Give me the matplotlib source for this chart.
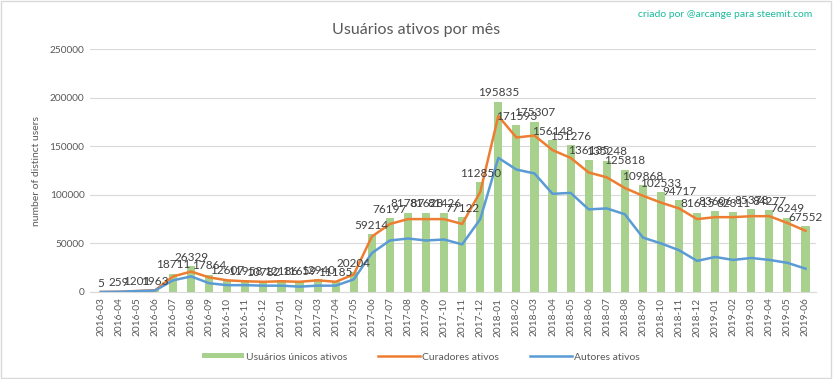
import matplotlib
matplotlib.use("Agg")
import matplotlib.pyplot as plt
import numpy as np

months = ["2016-03","2016-04","2016-05","2016-06","2016-07","2016-08","2016-09","2016-10","2016-11","2016-12",
          "2017-01","2017-02","2017-03","2017-04","2017-05","2017-06","2017-07","2017-08","2017-09","2017-10",
          "2017-11","2017-12","2018-01","2018-02","2018-03","2018-04","2018-05","2018-06","2018-07","2018-08",
          "2018-09","2018-10","2018-11","2018-12","2019-01","2019-02","2019-03","2019-04","2019-05","2019-06"]

unique_users = [5, 259, 1201, 1963, 18711, 26329, 17864, 12607, 11958, 10782,
                12186, 11659, 12940, 11185, 20204, 59214, 76197, 81787, 81628, 81426,
                77122, 112850, 195835, 171593, 175307, 156148, 151276, 136135, 135248, 125818,
                109868, 102533, 94717, 81615, 83606, 82311, 85378, 84277, 76249, 67552]

curators = [0, 200, 1000, 1800, 16000, 21000, 15000, 12000, 11000, 10500,
            11000, 10500, 12000, 10500, 18000, 57000, 70000, 75000, 75000, 75000,
            70000, 103000, 181000, 159000, 161000, 146000, 138000, 123000, 118000, 107000,
            99000, 92000, 86000, 75000, 77000, 77000, 78000, 78000, 71000, 63000]

authors = [0, 200, 900, 1500, 12000, 16000, 9000, 7000, 7000, 6500,
           6500, 5500, 6500, 6500, 13000, 40000, 53000, 55000, 53000, 54000,
           49000, 75000, 138000, 126000, 122000, 101000, 102000, 85000, 86000, 80000,
           56000, 50000, 43000, 32000, 36000, 33000, 35000, 33000, 30000, 24000]

yticks = [0, 50000, 100000, 150000, 200000, 250000]

plt.rcParams['font.family'] = ['Lato', 'DejaVu Sans']

fig = plt.figure(figsize=(8.33, 3.79), dpi=100)
ax = fig.add_axes([0.108, 0.2296, 0.872, 0.641])

x = np.arange(len(months))
hb = ax.bar(x, unique_users, width=0.45, color="#a9d18e", label="Usuários únicos ativos", zorder=2)
hc, = ax.plot(x, curators, color="#ed7d31", lw=1.8, label="Curadores ativos", zorder=3)
ha, = ax.plot(x, authors, color="#5b9bd5", lw=1.8, label="Autores ativos", zorder=3)

for xi, v in zip(x, unique_users):
    ax.text(xi, v + 3500, str(v), ha="center", va="bottom", fontsize=8.5, color="#404040", zorder=4)

ax.set_xlim(-0.6, len(months) - 0.4)
ax.set_ylim(0, 250000)
ax.set_yticks(yticks)
ax.set_yticklabels([str(t) for t in yticks], fontsize=7.3, color="#595959")
ax.set_xticks(x)
ax.set_xticklabels(months, rotation=90, fontsize=7.3, color="#595959")
ax.tick_params(length=0, pad=4)
ax.yaxis.grid(True, color="#d9d9d9", lw=0.8, zorder=0)
ax.set_axisbelow(True)
for s in ["top", "right", "left"]:
    ax.spines[s].set_visible(False)
ax.spines["bottom"].set_color("#d9d9d9")
ax.set_ylabel("number of distinct users", fontsize=7.5, color="#595959", labelpad=6)

fig.text(0.5, 0.92, "Usuários ativos por mês", ha="center", va="center", fontsize=11.5, color="#595959")
fig.text(0.975, 0.962, "criado por @arcange para steemit.com", ha="right", va="center", fontsize=7.5, color="#1abc9c")

fig.legend(handles=[hb, hc, ha], loc="center", bbox_to_anchor=(0.505, 0.058), ncol=3, frameon=False,
           fontsize=7.5, handlelength=4, handleheight=0.4, handletextpad=0.2, columnspacing=3,
           labelcolor="#595959")

border = plt.Rectangle((0.001, 0.002), 0.997, 0.995, transform=fig.transFigure, fill=False,
                       edgecolor="#d9d9d9", lw=1)
fig.patches.append(border)

fig.savefig("out.png", dpi=100)
